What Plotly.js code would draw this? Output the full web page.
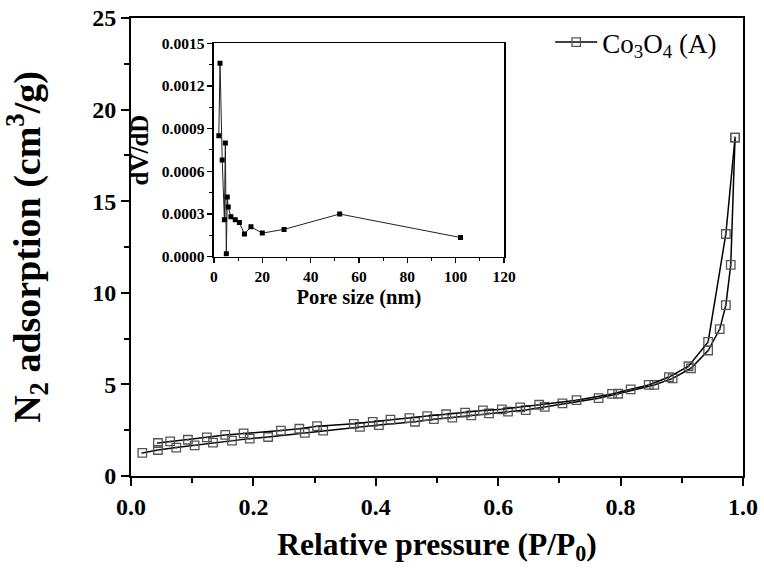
<!DOCTYPE html>
<html>
<head>
<meta charset="utf-8">
<script src="https://cdn.plot.ly/plotly-3.0.1.min.js"></script>
<style>html,body{margin:0;padding:0;background:#fff;}#chart{width:764px;height:574px;}</style>
</head>
<body>
<div id="chart"></div>
<script>
// Adsorption branch (relative pressure, volume)
var adsP = [0.0185, 0.044, 0.074, 0.104, 0.134, 0.165, 0.194, 0.224, 0.284, 0.314, 0.374, 0.405, 0.464, 0.495, 0.525, 0.556, 0.585, 0.616, 0.645, 0.676, 0.705, 0.764, 0.796, 0.855, 0.885, 0.915, 0.943, 0.962, 0.972, 0.980, 0.987];
var adsV = [1.26, 1.42, 1.55, 1.67, 1.82, 1.93, 2.04, 2.13, 2.35, 2.48, 2.68, 2.78, 2.96, 3.10, 3.19, 3.31, 3.42, 3.51, 3.60, 3.77, 3.96, 4.25, 4.49, 4.97, 5.33, 5.88, 6.85, 8.02, 9.33, 11.52, 18.47];
// Desorption branch
var desP = [0.987, 0.972, 0.943, 0.911, 0.879, 0.846, 0.8165, 0.786, 0.728, 0.667, 0.636, 0.606, 0.575, 0.546, 0.515, 0.484, 0.455, 0.424, 0.395, 0.364, 0.304, 0.275, 0.245, 0.184, 0.154, 0.124, 0.093, 0.064, 0.044];
var desV = [18.47, 13.21, 7.32, 5.99, 5.40, 4.97, 4.73, 4.48, 4.14, 3.89, 3.75, 3.64, 3.58, 3.46, 3.37, 3.27, 3.16, 3.08, 2.95, 2.85, 2.72, 2.58, 2.48, 2.33, 2.24, 2.11, 1.98, 1.89, 1.80];
// Inset: pore size distribution
var poreSize = [2.0, 2.5, 3.4, 4.3, 4.7, 5.1, 5.5, 5.9, 7.0, 8.8, 10.5, 12.6, 15.3, 20, 29, 52, 102];
var dVdD = [0.00085, 0.00136, 0.00068, 0.00026, 0.00080, 0.00002, 0.00042, 0.00035, 0.00028, 0.00026, 0.00024, 0.00016, 0.00021, 0.000166, 0.000192, 0.000300, 0.000135];

var seriesName = 'Co<sub>3</sub>O<sub>4</sub> (A)';
var serif = 'Liberation Serif, Times New Roman, serif';

var mainMarker = {symbol: 'square-open-dot', size: 8.5, color: '#555', line: {width: 1.3, color: '#555'}};
var traces = [
  {x: adsP, y: adsV, mode: 'lines+markers', name: seriesName, line: {color: '#000', width: 1.5}, marker: mainMarker, xaxis: 'x', yaxis: 'y'},
  {x: desP, y: desV, mode: 'lines+markers', name: seriesName, showlegend: false, line: {color: '#000', width: 1.5}, marker: mainMarker, xaxis: 'x', yaxis: 'y'},
  {x: poreSize, y: dVdD, mode: 'lines+markers', showlegend: false, line: {color: '#222', width: 1}, marker: {symbol: 'square', size: 5, color: '#000'}, xaxis: 'x2', yaxis: 'y2'}
];

var layout = {
  width: 764, height: 574,
  margin: {l: 131, r: 21, t: 18, b: 98},
  paper_bgcolor: '#fff', plot_bgcolor: '#fff',
  font: {family: serif, color: '#000'},
  showlegend: true,
  legend: {x: 0.685, y: 1.0, xanchor: 'left', yanchor: 'top', bgcolor: 'rgba(0,0,0,0)', font: {family: serif, size: 27, color: '#000'}, itemwidth: 42, borderwidth: 0},
  xaxis: {
    domain: [0, 1], range: [0, 1], dtick: 0.2, tick0: 0, tickformat: '.1f',
    ticks: 'outside', ticklen: 8, tickwidth: 2, tickcolor: '#000',
    minor: {dtick: 0.1, ticks: 'outside', ticklen: 5, tickwidth: 2, tickcolor: '#000'},
    showline: true, linewidth: 2, linecolor: '#000', mirror: true,
    showgrid: false, zeroline: false,
    tickfont: {family: serif, size: 24, weight: 'bold'},
    title: {text: 'Relative pressure (P/P<sub>0</sub>)', font: {family: serif, size: 31.5, weight: 'bold'}, standoff: 14}
  },
  yaxis: {
    domain: [0, 1], range: [0, 25], dtick: 5, tick0: 0,
    ticks: 'outside', ticklen: 8, tickwidth: 2, tickcolor: '#000',
    minor: {dtick: 2.5, ticks: 'outside', ticklen: 5, tickwidth: 2, tickcolor: '#000'},
    showline: true, linewidth: 2, linecolor: '#000', mirror: true,
    showgrid: false, zeroline: false,
    tickfont: {family: serif, size: 24, weight: 'bold'},
    title: {text: 'N<sub>2</sub> adsorption (cm<sup>3</sup>/g)', font: {family: serif, size: 38, weight: 'bold'}, standoff: 40}
  },
  xaxis2: {
    domain: [0.1356, 0.6095], range: [0, 120], dtick: 20, tick0: 0, anchor: 'y2',
    ticks: 'outside', ticklen: 5, tickwidth: 1.5, tickcolor: '#000',
    minor: {dtick: 10, ticks: 'outside', ticklen: 3, tickwidth: 1, tickcolor: '#000'},
    showline: true, linewidth: 1.5, linecolor: '#000', mirror: true,
    showgrid: false, zeroline: false,
    tickfont: {family: serif, size: 15.5, weight: 'bold'},
    title: {text: 'Pore size (nm)', font: {family: serif, size: 20.5, weight: 'bold'}, standoff: 6}
  },
  yaxis2: {
    domain: [0.4788, 0.9448], range: [0, 0.0015], dtick: 0.0003, tick0: 0, tickformat: '.4f', anchor: 'x2',
    ticks: 'outside', ticklen: 5, tickwidth: 1.5, tickcolor: '#000',
    minor: {dtick: 0.00015, ticks: 'outside', ticklen: 3, tickwidth: 1, tickcolor: '#000'},
    showline: true, linewidth: 1.5, linecolor: '#000', mirror: true,
    showgrid: false, zeroline: false,
    tickfont: {family: serif, size: 15.5, weight: 'bold'},
    title: {text: 'dV/dD', font: {family: serif, size: 25, weight: 'bold'}, standoff: 6}
  }
};

Plotly.newPlot('chart', traces, layout, {staticPlot: true, displayModeBar: false});
</script>
</body>
</html>
